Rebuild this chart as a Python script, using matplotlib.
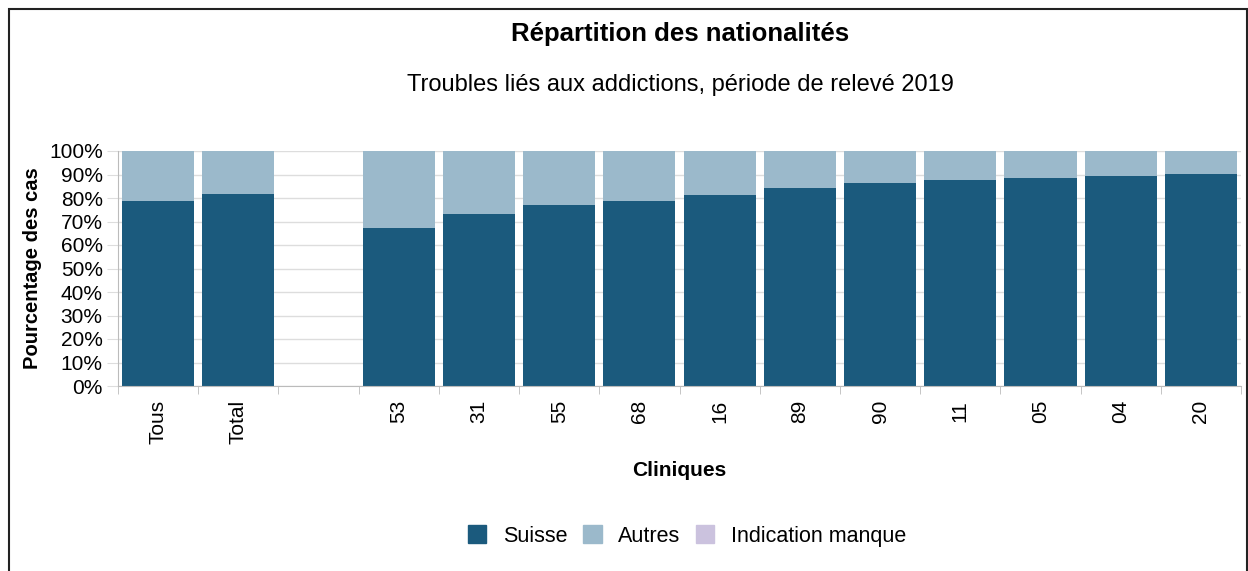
import numpy as np
import matplotlib.pyplot as plt
from matplotlib.patches import Patch, Rectangle

plt.rcParams['font.family'] = ['Liberation Sans', 'DejaVu Sans']

# Data
cliniques = ['Tous', 'Total', '', '53', '31', '55', '68', '16', '89', '90', '11', '05', '04', '20']
suisse = [78.9, 81.5, np.nan, 67.1, 73.2, 76.9, 78.6, 81.1, 84.4, 86.2, 87.5, 88.7, 89.2, 90.3]
autres = [100 - v for v in suisse]
manque = [0.0 if not np.isnan(v) else np.nan for v in suisse]

c_suisse = '#1b5a7d'
c_autres = '#9bb9cb'
c_manque = '#cbc2de'

fig = plt.figure(figsize=(12.48, 5.71), dpi=100)
ax = fig.add_axes([118 / 1248, 1 - 386 / 571, (1241 - 118) / 1248, 235 / 571])

x = np.arange(len(cliniques))
s = np.array(suisse)
a = np.array(autres)
m = np.array(manque)
ax.bar(x, s, width=0.9, color=c_suisse, zorder=2)
ax.bar(x, a, width=0.9, bottom=s, color=c_autres, zorder=2)
ax.bar(x, m, width=0.9, bottom=s + a, color=c_manque, zorder=2)

ax.set_xlim(-0.5, len(cliniques) - 0.5)
ax.set_ylim(0, 100)
ax.set_yticks(np.arange(0, 101, 10))
ax.set_yticklabels([f'{v}%' for v in range(0, 101, 10)], fontsize=15)
ax.yaxis.grid(True, color='#dddddd', linewidth=1, zorder=0)
ax.set_axisbelow(True)

ax.set_xticks(x)
ax.set_xticklabels(cliniques, rotation=90, fontsize=15)
ax.tick_params(axis='x', length=0, pad=10)
ax.set_xticks(np.arange(-0.5, len(cliniques), 1), minor=True)
ax.tick_params(axis='x', which='minor', length=6, color='#bbbbbb')
ax.tick_params(axis='y', length=8, color='#dddddd', pad=3)

for side in ['top', 'right']:
    ax.spines[side].set_visible(False)
ax.spines['left'].set_color('#bbbbbb')
ax.spines['bottom'].set_color('#bbbbbb')

ax.set_ylabel('Pourcentage des cas', fontsize=14.5, fontweight='bold', labelpad=5)
ax.set_xlabel('Cliniques', fontsize=15, fontweight='bold', labelpad=12)

fig.text(680 / 1248, 1 - 34 / 571, 'Répartition des nationalités', ha='center', va='center',
         fontsize=18.5, fontweight='bold')
fig.text(680 / 1248, 1 - 85 / 571, 'Troubles liés aux addictions, période de relevé 2019',
         ha='center', va='center', fontsize=17)

handles = [Patch(color=c_suisse, label='Suisse'),
           Patch(color=c_autres, label='Autres'),
           Patch(color=c_manque, label='Indication manque')]
fig.legend(handles=handles, loc='center', bbox_to_anchor=(687 / 1248, 1 - 536 / 571), ncol=3,
           frameon=False, fontsize=15.5, handlelength=0.85, handleheight=0.85, columnspacing=0.75,
           handletextpad=0.75)

fig.patches.append(Rectangle((8.5 / 1248, -0.05), 1238 / 1248, 1.05 - 9.5 / 571, transform=fig.transFigure,
                             fill=False, edgecolor='#222222', linewidth=1.5))

fig.savefig('out.png', dpi=100)
